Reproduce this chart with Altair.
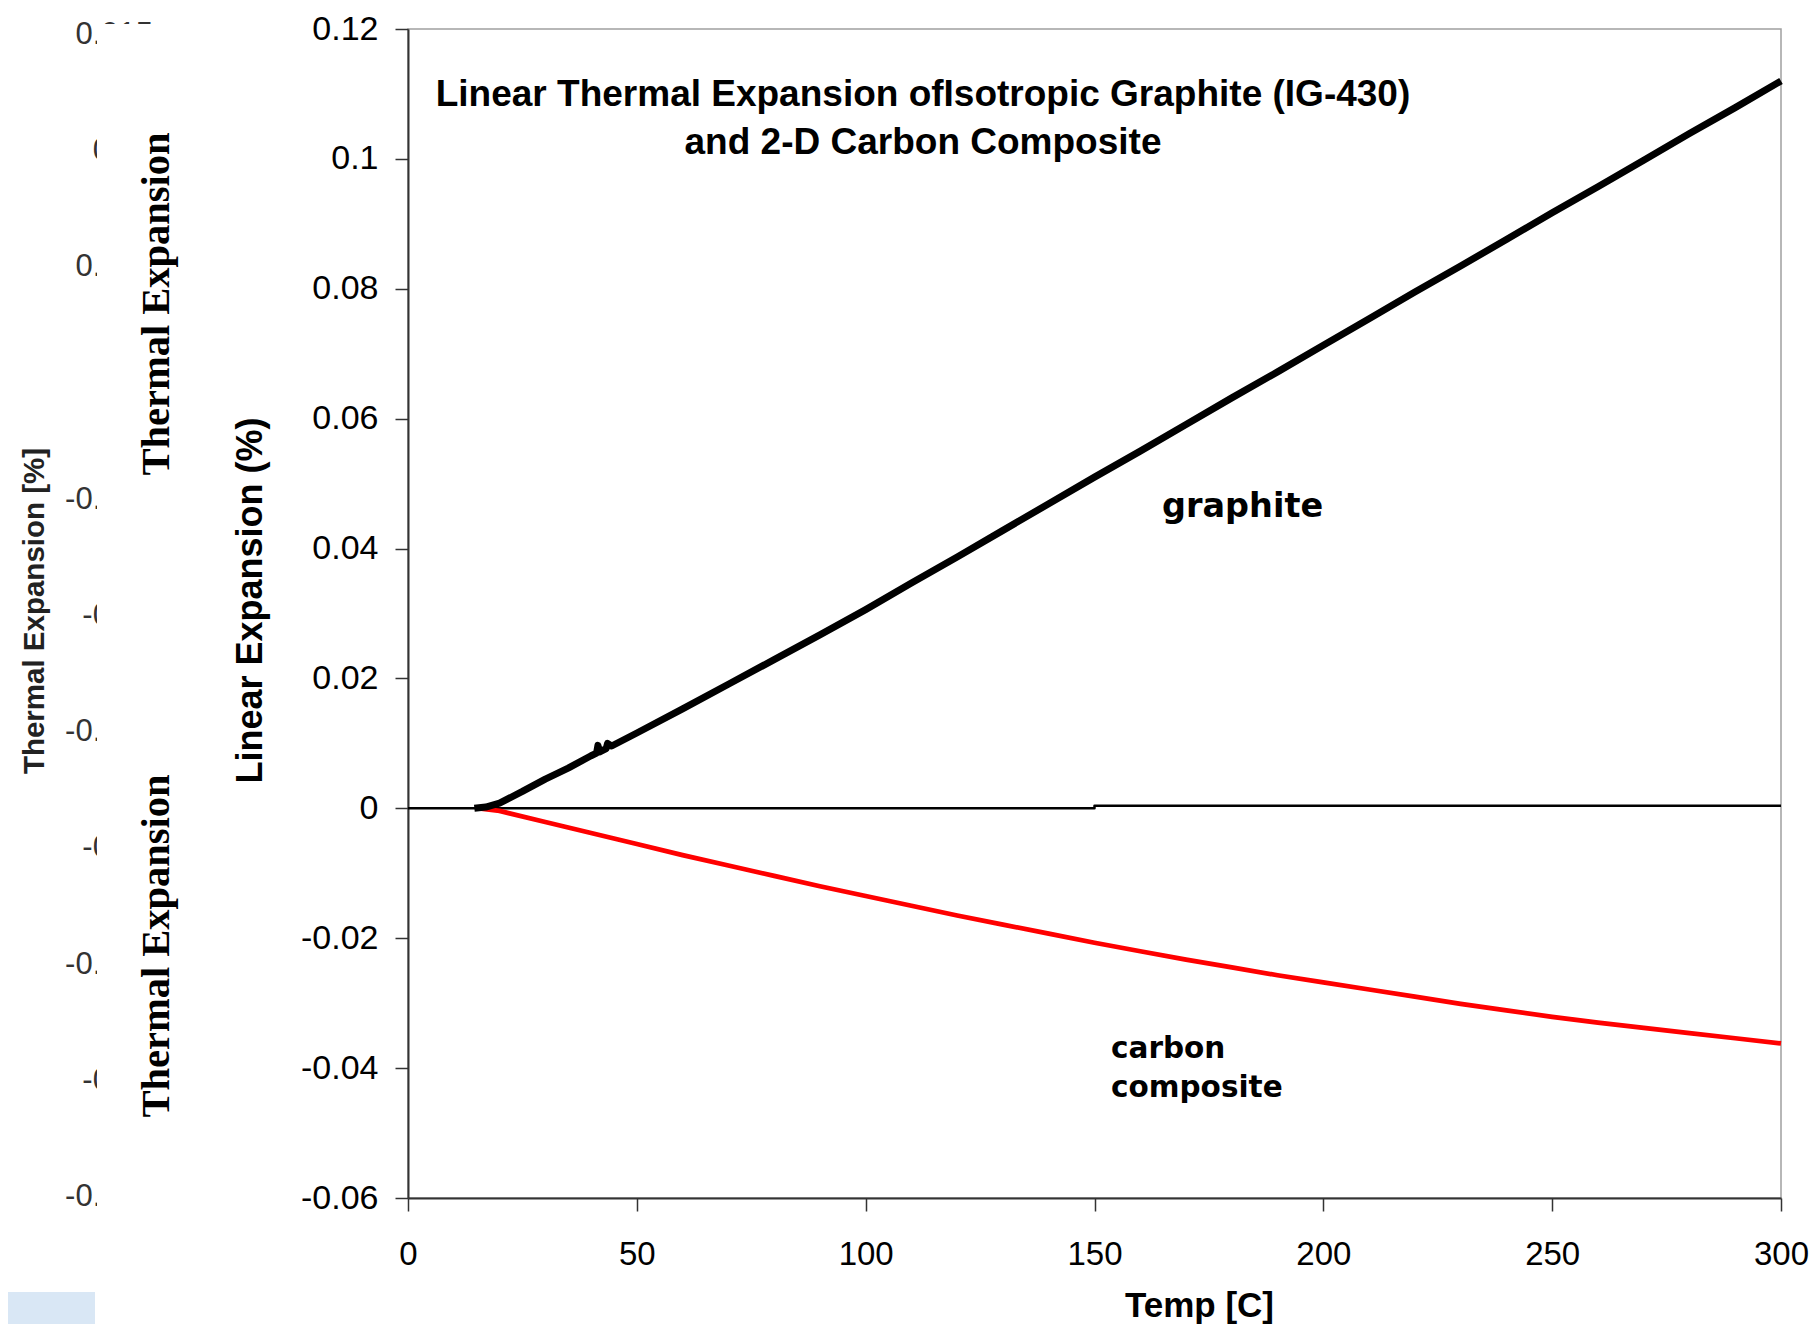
import altair as alt
import pandas as pd

# ---------------- data ----------------
graphite_temp = [14.5, 17, 20, 25, 30, 35, 40, 41.2, 41.5, 41.9, 43.3, 43.6, 44.5,
                 50, 60, 70, 80, 90, 100, 110, 120, 130, 140, 150, 160, 170, 180,
                 190, 200, 210, 220, 230, 240, 250, 260, 270, 280, 290, 300]
graphite_exp = [0.0, 0.0002, 0.0008, 0.0026, 0.0045, 0.0062, 0.0081, 0.0085, 0.0097,
                0.0087, 0.0092, 0.0100, 0.0096,
                0.0116, 0.0153, 0.0191, 0.0229, 0.0267, 0.0306, 0.0347, 0.0387, 0.0428,
                0.0469, 0.0510, 0.0550, 0.0591, 0.0632, 0.0672, 0.0713, 0.0754, 0.0795,
                0.0835, 0.0876, 0.0917, 0.0957, 0.0998, 0.1039, 0.1079, 0.1120]

carbon_temp = [15.5, 20, 30, 40, 50, 60, 70, 80, 90, 100, 110, 120, 130, 140, 150,
               160, 170, 180, 190, 200, 210, 220, 230, 240, 250, 260, 270, 280, 290, 300]
carbon_exp = [0.0, -0.0004, -0.0021, -0.0038, -0.0055, -0.0072, -0.0088, -0.0104,
              -0.0120, -0.0135, -0.0150, -0.0165, -0.0179, -0.0193, -0.0207, -0.0220,
              -0.0233, -0.0245, -0.0257, -0.0268, -0.0279, -0.0290, -0.0301, -0.0311,
              -0.0321, -0.0330, -0.0338, -0.0346, -0.0354, -0.0362]

zero_temp = [0, 150, 150, 300]
zero_exp = [0.0, 0.0, 0.0004, 0.0004]

series_names = ["baseline", "carbon composite", "graphite"]

x_ticks = [0, 50, 100, 150, 200, 250, 300]
y_ticks = [-0.06, -0.04, -0.02, 0, 0.02, 0.04, 0.06, 0.08, 0.1, 0.12]

# leftover axis of an underlying picture (partly covered)
ghost_values = [0.015, 0.01, 0.005, 0, -0.005, -0.01, -0.015, -0.02, -0.025, -0.03, -0.035]
ghost_labels = ["0.015", "0.01", "0.005", "0", "-0.005", "-0.01", "-0.015", "-0.02",
                "-0.025", "-0.03", "-0.035"]

title_lines = ["Linear Thermal Expansion ofIsotropic Graphite (IG-430)",
               "and 2-D Carbon Composite"]

# ---------------- tables ----------------
rows = []
for t, v in zip(zero_temp, zero_exp):
    rows.append({"temp": t, "exp": v, "series": "baseline"})
for t, v in zip(carbon_temp, carbon_exp):
    rows.append({"temp": t, "exp": v, "series": "carbon composite"})
for t, v in zip(graphite_temp, graphite_exp):
    rows.append({"temp": t, "exp": v, "series": "graphite"})
df = pd.DataFrame(rows)
df["order"] = range(len(df))

ghost_df = pd.DataFrame({"gv": ghost_values, "gl": ghost_labels})

PLOT_LEFT = 408
PLOT_TOP = 29
W = 1373
H = 1169

SANS = "Liberation Sans"


def one(text):
    return alt.Chart(pd.DataFrame({"t": [text]}))


# ---------------- layers ----------------
ghost = alt.Chart(ghost_df).mark_text(
    align="right", baseline="middle", font=SANS, fontSize=31, color="#333333"
).encode(
    x=alt.value(153 - PLOT_LEFT),
    y=alt.Y("gv:Q", scale=alt.Scale(domain=[-0.03504, 0.01526], nice=False, zero=False),
            axis=None),
    text="gl:N",
)

cover = one("").mark_rect(color="white").encode(
    x=alt.value(97 - PLOT_LEFT), x2=alt.value(185 - PLOT_LEFT),
    y=alt.value(24 - PLOT_TOP), y2=alt.value(1292 - PLOT_TOP),
)

bluebox = one("").mark_rect(color="#d9e7f5").encode(
    x=alt.value(8 - PLOT_LEFT), x2=alt.value(95 - PLOT_LEFT),
    y=alt.value(1292 - PLOT_TOP), y2=alt.value(1332 - PLOT_TOP),
)

ghost_title = one("Thermal Expansion [%]").mark_text(
    angle=270, align="center", baseline="middle", font=SANS, fontSize=29.5,
    fontWeight="bold", color="#222222"
).encode(x=alt.value(35 - PLOT_LEFT), y=alt.value(611 - PLOT_TOP), text="t:N")

serif1 = one("Thermal Expansion").mark_text(
    angle=270, align="center", baseline="middle", font="Liberation Serif", fontSize=40.5,
    fontWeight="bold", color="black"
).encode(x=alt.value(157 - PLOT_LEFT), y=alt.value(304 - PLOT_TOP), text="t:N")

serif2 = one("Thermal Expansion").mark_text(
    angle=270, align="center", baseline="middle", font="Liberation Serif", fontSize=40.5,
    fontWeight="bold", color="black"
).encode(x=alt.value(157 - PLOT_LEFT), y=alt.value(946 - PLOT_TOP), text="t:N")

lines = alt.Chart(df).mark_line(strokeJoin="round", strokeCap="butt").encode(
    x=alt.X("temp:Q", scale=alt.Scale(domain=[0, 300], nice=False, zero=False),
            axis=alt.Axis(
                values=x_ticks, title="Temp [C]", grid=False,
                labelFont=SANS, labelFontSize=33, labelColor="black", labelPadding=27,
                labelFlush=False, labelOverlap=False, labelExpr="'' + datum.value",
                tickSize=13, tickColor="#333333", tickWidth=1.5,
                domainColor="#333333", domainWidth=2,
                titleFont=SANS, titleFontSize=35, titleFontWeight="bold",
                titleColor="black", titleX=1199 - PLOT_LEFT, titleY=1305 - (PLOT_TOP + H),
                titleAlign="center", titleBaseline="middle")),
    y=alt.Y("exp:Q", scale=alt.Scale(domain=[-0.06, 0.12], nice=False, zero=False),
            axis=alt.Axis(
                values=y_ticks, title="Linear Expansion (%)", grid=False,
                labelFont=SANS, labelFontSize=34, labelColor="black", labelPadding=17,
                labelFlush=False, labelOverlap=False, labelExpr="'' + datum.value",
                tickSize=13, tickColor="#333333", tickWidth=1.5,
                domainColor="#333333", domainWidth=2,
                titleFont=SANS, titleFontSize=36, titleFontWeight="bold",
                titleColor="black", titleAngle=270, titleX=250 - PLOT_LEFT,
                titleY=600 - PLOT_TOP, titleAlign="center", titleBaseline="middle")),
    color=alt.Color("series:N", scale=alt.Scale(domain=series_names,
                                               range=["#000000", "#ff0000", "#000000"]),
                    legend=None),
    strokeWidth=alt.StrokeWidth("series:N", scale=alt.Scale(domain=series_names,
                                                            range=[2.5, 7, 6]),
                                legend=None),
    detail="series:N",
    order="order:Q",
)

t1 = one(title_lines[0]).mark_text(
    align="center", baseline="middle", font=SANS, fontSize=37, fontWeight="bold",
    color="black"
).encode(x=alt.value(923 - PLOT_LEFT), y=alt.value(95 - PLOT_TOP), text="t:N")
t2 = one(title_lines[1]).mark_text(
    align="center", baseline="middle", font=SANS, fontSize=37, fontWeight="bold",
    color="black"
).encode(x=alt.value(923 - PLOT_LEFT), y=alt.value(143 - PLOT_TOP), text="t:N")

lab_graphite = one("graphite").mark_text(
    align="left", baseline="alphabetic", font="DejaVu Sans", fontSize=33.5,
    fontWeight="bold", color="black"
).encode(x=alt.value(1162 - PLOT_LEFT), y=alt.value(517 - PLOT_TOP), text="t:N")
lab_carbon = one("carbon").mark_text(
    align="left", baseline="alphabetic", font="DejaVu Sans", fontSize=29.5,
    fontWeight="bold", color="black"
).encode(x=alt.value(1111 - PLOT_LEFT), y=alt.value(1058 - PLOT_TOP), text="t:N")
lab_comp = one("composite").mark_text(
    align="left", baseline="alphabetic", font="DejaVu Sans", fontSize=29.5,
    fontWeight="bold", color="black"
).encode(x=alt.value(1111 - PLOT_LEFT), y=alt.value(1097 - PLOT_TOP), text="t:N")

chart = alt.layer(
    ghost, cover, bluebox, ghost_title, serif1, serif2, lines,
    t1, t2, lab_graphite, lab_carbon, lab_comp
).resolve_scale(y="independent").properties(
    width=W, height=H,
    autosize=alt.AutoSizeParams(type="none"),
    padding={"left": PLOT_LEFT - 8, "top": PLOT_TOP - 8, "right": 28, "bottom": 126},
    background="white",
).configure_view(stroke="#a0a0a0", strokeWidth=1.5)

chart.save("out.html", embed_options={"renderer": "svg", "actions": False})
